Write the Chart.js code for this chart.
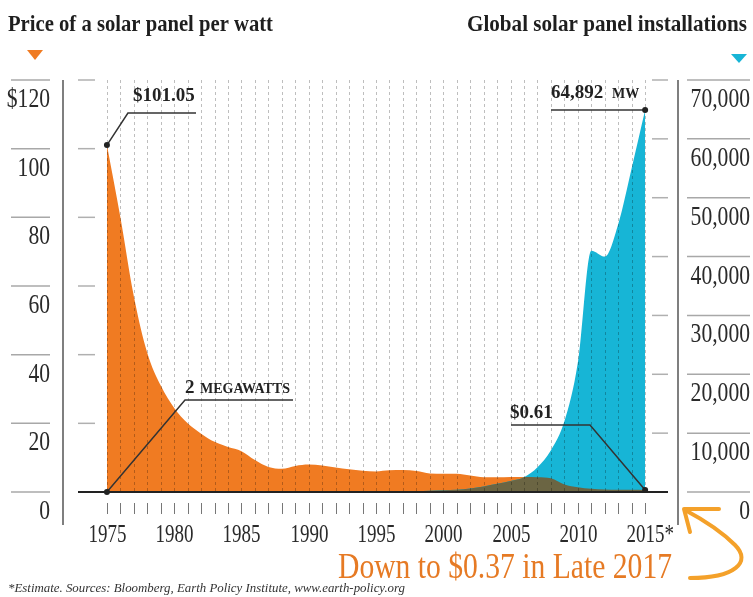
<!DOCTYPE html>
<html>
<head>
<meta charset="utf-8">
<script src="https://cdn.jsdelivr.net/npm/chart.js@4.4.1/dist/chart.umd.min.js"></script>
<style>
  html, body { margin: 0; padding: 0; background: #fff; }
  #wrap { width: 753px; height: 597px; position: relative; }
</style>
</head>
<body>
<div id="wrap"><canvas id="solarChart" width="753" height="597"></canvas></div>
<script>
// Năm (trục x)
const years = [1975, 1976, 1977, 1978, 1979, 1980, 1981, 1982, 1983, 1984,
               1985, 1986, 1987, 1988, 1989, 1990, 1991, 1992, 1993, 1994,
               1995, 1996, 1997, 1998, 1999, 2000, 2001, 2002, 2003, 2004,
               2005, 2006, 2007, 2008, 2009, 2010, 2011, 2012, 2013, 2014, 2015];
// Giá mỗi watt ($)
const pricePerWatt = [101.05, 80, 57, 40.5, 31, 24.5, 20, 17, 14.6, 13.1,
                      11.9, 9.3, 7.3, 6.8, 7.6, 8.0, 7.7, 7.1, 6.6, 6.2,
                      6.0, 6.3, 6.4, 6.1, 5.4, 5.3, 5.3, 4.8, 4.3, 4.3,
                      4.4, 4.4, 4.3, 4.0, 2.2, 1.4, 0.95, 0.75, 0.68, 0.63, 0.61];
// Lắp đặt toàn cầu (MW)
const installsMW = [2, 2.5, 3, 4, 6, 7, 9, 11, 14, 17,
                    21, 26, 30, 34, 40, 46, 55, 58, 60, 69,
                    78, 89, 126, 153, 200, 280, 390, 600, 950, 1400,
                    1850, 2500, 4200, 7100, 12000, 22000, 41000, 40000, 45500, 55000, 64892];
// Nhãn trục
const priceTicks = [0, 20, 40, 60, 80, 100, 120];
const priceTickLabels = ['0', '20', '40', '60', '80', '100', '$120'];
const installTicks = [0, 10000, 20000, 30000, 40000, 50000, 60000, 70000];
const installTickLabels = ['0', '10,000', '20,000', '30,000', '40,000', '50,000', '60,000', '70,000'];
const yearLabelEvery = 5;

const ORANGE = '#f07b22';
const BLUE = '#17b5d6';
const BROWN = '#6b6543';
const SERIF = '"Liberation Serif", "DejaVu Serif", serif';

// Vẽ chữ có nén ngang
function txt(ctx, s, x, y, font, color, align, sx) {
    ctx.save();
    ctx.font = font;
    ctx.fillStyle = color;
    ctx.textAlign = align;
    ctx.textBaseline = 'alphabetic';
    ctx.translate(x, y);
    ctx.scale(sx, 1);
    ctx.fillText(s, 0, 0);
    ctx.restore();
}
// Vẽ chữ co lại cho vừa chiều rộng
function fitTxt(ctx, s, x, y, font, color, width) {
    ctx.save();
    ctx.font = font;
    const w = ctx.measureText(s).width;
    ctx.restore();
    txt(ctx, s, x, y, font, color, 'left', width / w);
}
function line(ctx, pts, color, w) {
    ctx.save();
    ctx.strokeStyle = color;
    ctx.lineWidth = w;
    ctx.beginPath();
    pts.forEach((p, i) => i ? ctx.lineTo(p[0], p[1]) : ctx.moveTo(p[0], p[1]));
    ctx.stroke();
    ctx.restore();
}
function dot(ctx, x, y) {
    ctx.save();
    ctx.fillStyle = '#222';
    ctx.beginPath();
    ctx.arc(x, y, 3, 0, Math.PI * 2);
    ctx.fill();
    ctx.restore();
}
function areaPath(ctx, meta, base) {
    const pts = meta.data;
    ctx.beginPath();
    meta.dataset.path(ctx);
    ctx.lineTo(pts[pts.length - 1].x, base);
    ctx.lineTo(pts[0].x, base);
    ctx.closePath();
}

const decorPlugin = {
    id: 'decor',
    afterDatasetsDraw(chart) {
        const { ctx, chartArea: a, scales } = chart;
        const x = scales.x, y = scales.y, y2 = scales.y2;
        const base = y.getPixelForValue(0);

        // Phần chồng nhau giữa hai vùng (màu nâu)
        const mPrice = chart.getDatasetMeta(0), mInst = chart.getDatasetMeta(1);
        if (mPrice.dataset && typeof mPrice.dataset.path === 'function') {
            ctx.save();
            areaPath(ctx, mInst, base);
            ctx.clip();
            areaPath(ctx, mPrice, base);
            ctx.fillStyle = BROWN;
            ctx.fill();
            ctx.restore();
        }

        // Lưới dọc nét đứt theo năm
        ctx.save();
        ctx.setLineDash([3, 3]);
        years.forEach(v => {
            const px = Math.round(x.getPixelForValue(v)) + 0.5;
            line(ctx, [[px, a.top], [px, base]], 'rgba(0,0,0,0.32)', 0.8);
        });
        ctx.restore();

        // Vạch ngắn bên trong + nhãn trục
        priceTicks.forEach((t, i) => {
            const py = y.getPixelForValue(t);
            if (t !== 0) line(ctx, [[a.left, py], [a.left + 17, py]], '#b0b0b0', 1.5);
            line(ctx, [[11, py], [50, py]], '#a8a8a8', 1.5);
            txt(ctx, priceTickLabels[i], 50, py + 27, '27px ' + SERIF, '#2a2a2a', 'right', 0.8);
        });
        installTicks.forEach((t, i) => {
            const py = y2.getPixelForValue(t);
            if (t !== 0) line(ctx, [[a.right - 16, py], [a.right, py]], '#b0b0b0', 1.5);
            line(ctx, [[687, py], [750, py]], '#a8a8a8', 1.5);
            txt(ctx, installTickLabels[i], 750, py + 27, '27px ' + SERIF, '#2a2a2a', 'right', 0.8);
        });

        // Trục dọc hai bên
        line(ctx, [[63, a.top], [63, 525]], '#555', 1.5);
        line(ctx, [[678, a.top], [678, 525]], '#555', 1.5);

        // Đường đáy
        line(ctx, [[a.left, base], [a.right, base]], '#222', 2);

        // Vạch năm và nhãn năm
        years.forEach((v, i) => {
            const px = Math.round(x.getPixelForValue(v)) + 0.5;
            line(ctx, [[px, 503], [px, 514]], '#777', 1);
            if (v % yearLabelEvery === 0) {
                const lab = i === years.length - 1 ? v + '*' : String(v);
                ctx.save();
                ctx.font = '25px ' + SERIF;
                const w = ctx.measureText(String(v)).width * 0.76;
                ctx.restore();
                txt(ctx, lab, px - w / 2, 542, '25px ' + SERIF, '#2a2a2a', 'left', 0.76);
            }
        });

        // Chú thích
        const last = years.length - 1;
        const p0 = [x.getPixelForValue(years[0]), y.getPixelForValue(pricePerWatt[0])];
        const i0 = [x.getPixelForValue(years[0]), y2.getPixelForValue(installsMW[0])];
        const pN = [x.getPixelForValue(years[last]), y.getPixelForValue(pricePerWatt[last])];
        const iN = [x.getPixelForValue(years[last]), y2.getPixelForValue(installsMW[last])];

        line(ctx, [p0, [p0[0] + 21, p0[1] - 32], [196, p0[1] - 32]], '#333', 1.5);
        txt(ctx, '$' + pricePerWatt[0].toFixed(2), 133, 101, 'bold 19px ' + SERIF, '#222', 'left', 1);

        line(ctx, [i0, [185, 400], [293, 400]], '#333', 1.5);
        txt(ctx, '2', 185, 393, 'bold 19px ' + SERIF, '#222', 'left', 1);
        txt(ctx, 'MEGAWATTS', 200, 393, 'bold 14px ' + SERIF, '#222', 'left', 1);

        line(ctx, [[511, 425], [590, 425], pN], '#333', 1.5);
        txt(ctx, '$' + pricePerWatt[last].toFixed(2), 510, 418, 'bold 19px ' + SERIF, '#222', 'left', 1);

        line(ctx, [[551, iN[1]], iN], '#333', 1.5);
        txt(ctx, installsMW[last].toLocaleString('en-US'), 551, 98, 'bold 19px ' + SERIF, '#222', 'left', 1);
        txt(ctx, 'MW', 612, 98, 'bold 14px ' + SERIF, '#222', 'left', 1);

        [p0, i0, pN, iN].forEach(p => dot(ctx, p[0], p[1]));
    },
    afterDraw(chart) {
        const ctx = chart.ctx;
        // Tiêu đề
        fitTxt(ctx, 'Price of a solar panel per watt', 8, 31, 'bold 24px ' + SERIF, '#1e1e1e', 265);
        fitTxt(ctx, 'Global solar panel installations', 467, 31, 'bold 24px ' + SERIF, '#1e1e1e', 280);

        // Tam giác
        ctx.save();
        ctx.fillStyle = ORANGE;
        ctx.beginPath(); ctx.moveTo(27, 50); ctx.lineTo(43, 50); ctx.lineTo(35, 60); ctx.closePath(); ctx.fill();
        ctx.fillStyle = BLUE;
        ctx.beginPath(); ctx.moveTo(731, 54); ctx.lineTo(747, 54); ctx.lineTo(739, 63); ctx.closePath(); ctx.fill();
        ctx.restore();

        // Ghi chú cuối
        fitTxt(ctx, 'Down to $0.37 in Late 2017', 338, 578, '35px ' + SERIF, '#e67a24', 334);
        fitTxt(ctx, '*Estimate. Sources: Bloomberg, Earth Policy Institute, www.earth-policy.org', 8, 592, 'italic 13px ' + SERIF, '#333', 397);

        // Mũi tên cong
        ctx.save();
        ctx.strokeStyle = '#f4a12a';
        ctx.lineWidth = 4;
        ctx.lineCap = 'round';
        ctx.lineJoin = 'round';
        ctx.beginPath();
        ctx.moveTo(690, 578);
        ctx.bezierCurveTo(735, 578, 752, 562, 735, 545);
        ctx.bezierCurveTo(720, 530, 700, 518, 685, 510);
        ctx.stroke();
        ctx.beginPath();
        ctx.moveTo(719, 509);
        ctx.lineTo(684, 509);
        ctx.lineTo(690, 532);
        ctx.stroke();
        ctx.restore();
    }
};

const ctxSolar = document.getElementById('solarChart').getContext('2d');
new Chart(ctxSolar, {
    type: 'line',
    data: {
        datasets: [{
            label: 'Price of a solar panel per watt',
            data: years.map((yr, i) => ({ x: yr, y: pricePerWatt[i] })),
            yAxisID: 'y',
            backgroundColor: ORANGE,
            borderWidth: 0,
            pointRadius: 0,
            fill: 'origin',
            cubicInterpolationMode: 'monotone',
            order: 2
        }, {
            label: 'Global solar panel installations',
            data: years.map((yr, i) => ({ x: yr, y: installsMW[i] })),
            yAxisID: 'y2',
            backgroundColor: BLUE,
            borderWidth: 0,
            pointRadius: 0,
            fill: 'origin',
            cubicInterpolationMode: 'monotone',
            order: 1
        }]
    },
    options: {
        responsive: false,
        animation: false,
        events: [],
        layout: { padding: { left: 78, right: 85, top: 80, bottom: 105 } },
        plugins: { legend: { display: false }, tooltip: { enabled: false } },
        scales: {
            x: { type: 'linear', min: 1972.85, max: 2016.7, display: false },
            y: { min: 0, max: 120, display: false },
            y2: { min: 0, max: 70000, display: false, position: 'right' }
        }
    },
    plugins: [decorPlugin]
});
</script>
</body>
</html>
